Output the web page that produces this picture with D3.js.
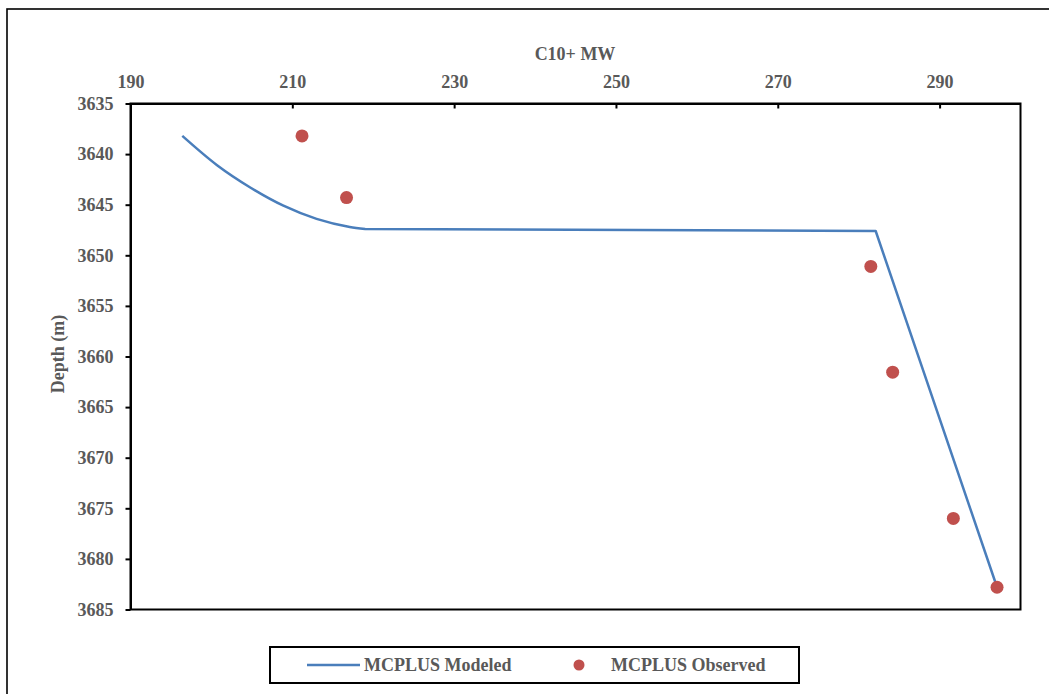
<!DOCTYPE html>
<html>
<head>
<meta charset="utf-8">
<script src="https://cdn.jsdelivr.net/npm/d3@7"></script>
<style>
  html, body { margin: 0; padding: 0; background: #fff; }
  svg { display: block; }
  text { font-family: "Liberation Serif", "Times New Roman", serif; font-weight: bold; fill: #595959; }
</style>
</head>
<body>
<svg id="chart" width="1049" height="694"></svg>
<script>
// C10+ molecular weight vs. depth
// modeled curve: smooth upper section, then a flat step and a straight lower section
const modeledCurveMW    = [196.4, 200.7, 204.8, 208.9, 213.0, 217.1, 219.0];
const modeledCurveDepth = [3638.2, 3641.1, 3643.3, 3645.1, 3646.4, 3647.2, 3647.4];
const modeledLowerMW    = [219.0, 282.1, 297.1];
const modeledLowerDepth = [3647.4, 3647.6, 3682.8];

const observedMW    = [211.2, 216.7, 281.5, 284.2, 291.7, 297.1];
const observedDepth = [3638.2, 3644.3, 3651.1, 3661.55, 3676.0, 3682.8];

const xTicks = [190, 210, 230, 250, 270, 290];
const yTicks = [3635, 3640, 3645, 3650, 3655, 3660, 3665, 3670, 3675, 3680, 3685];

const seriesNames = ["MCPLUS Modeled", "MCPLUS Observed"];
const lineColor = "#4A7EBB";
const dotColor = "#C0504D";

const svg = d3.select("#chart");
const W = 1049, H = 694;
const plot = { left: 130.5, top: 103.5, right: 1020.5, bottom: 609.5 };

// outer chart frame (runs off the right and bottom edges)
svg.append("rect")
  .attr("x", 7).attr("y", 9)
  .attr("width", W).attr("height", H)
  .attr("fill", "none").attr("stroke", "#000").attr("stroke-width", 1.6);

const x = d3.scaleLinear().domain([190, 300]).range([plot.left, plot.right]);
const y = d3.scaleLinear().domain([3635, 3685]).range([plot.top, plot.bottom]);

// plot area frame
svg.append("rect")
  .attr("x", plot.left).attr("y", plot.top)
  .attr("width", plot.right - plot.left).attr("height", plot.bottom - plot.top)
  .attr("fill", "none").attr("stroke", "#000").attr("stroke-width", 2);

// top x axis: ticks point into the plot
const xAxis = svg.append("g").attr("transform", `translate(0,${plot.top})`)
  .call(d3.axisTop(x).tickValues(xTicks).tickFormat(d3.format("d"))
    .tickSizeInner(-5).tickSizeOuter(0).tickPadding(10));
xAxis.select(".domain").attr("stroke", "#000").attr("stroke-width", 2);
xAxis.selectAll(".tick line").attr("stroke", "#000").attr("stroke-width", 2);
xAxis.selectAll(".tick text").attr("y", -16);

// left y axis: ticks point outward
const yAxis = svg.append("g").attr("transform", `translate(${plot.left},0)`)
  .call(d3.axisLeft(y).tickValues(yTicks).tickFormat(d3.format("d"))
    .tickSizeInner(5).tickSizeOuter(0).tickPadding(12));
yAxis.select(".domain").attr("stroke", "#000").attr("stroke-width", 2);
yAxis.selectAll(".tick line").attr("stroke", "#000").attr("stroke-width", 2);

svg.selectAll(".tick text")
  .attr("font-size", 18).attr("fill", "#595959")
  .attr("font-family", null).attr("font-weight", "bold");

// axis titles
svg.append("text").attr("x", 575).attr("y", 60).attr("text-anchor", "middle")
  .attr("font-size", 18).text("C10+ MW");
svg.append("text").attr("transform", "translate(64,354) rotate(-90)")
  .attr("text-anchor", "middle").attr("font-size", 18).text("Depth (m)");

// modeled line
const curvePts = modeledCurveMW.map((v, i) => [v, modeledCurveDepth[i]]);
const lowerPts = modeledLowerMW.map((v, i) => [v, modeledLowerDepth[i]]);
const smooth = d3.line().x(d => x(d[0])).y(d => y(d[1])).curve(d3.curveMonotoneX);
const straight = d3.line().x(d => x(d[0])).y(d => y(d[1]));
svg.append("path")
  .attr("d", smooth(curvePts) + straight(lowerPts).replace(/^M/, "L"))
  .attr("fill", "none").attr("stroke", lineColor).attr("stroke-width", 2.5)
  .attr("stroke-linejoin", "round");

// observed points
svg.append("g").selectAll("circle")
  .data(observedMW.map((v, i) => [v, observedDepth[i]]))
  .join("circle")
  .attr("cx", d => x(d[0])).attr("cy", d => y(d[1])).attr("r", 6.5)
  .attr("fill", dotColor);

// legend
const lg = svg.append("g");
lg.append("rect").attr("x", 270).attr("y", 647).attr("width", 529).attr("height", 36)
  .attr("fill", "#fff").attr("stroke", "#000").attr("stroke-width", 2);
lg.append("line").attr("x1", 307).attr("x2", 360).attr("y1", 665).attr("y2", 665)
  .attr("stroke", lineColor).attr("stroke-width", 2.5);
lg.append("text").attr("x", 364).attr("y", 671).attr("font-size", 18).text(seriesNames[0]);
lg.append("circle").attr("cx", 579).attr("cy", 665).attr("r", 5.5).attr("fill", dotColor);
lg.append("text").attr("x", 611).attr("y", 671).attr("font-size", 18).text(seriesNames[1]);
</script>
</body>
</html>
